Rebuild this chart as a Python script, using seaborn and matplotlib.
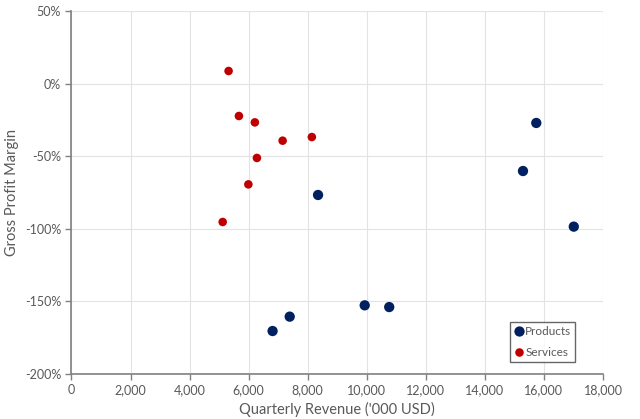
import numpy as np
import pandas as pd
import matplotlib
matplotlib.use("Agg")
import matplotlib.pyplot as plt
import matplotlib.ticker as mtick
import seaborn as sns

# ── Data ──────────────────────────────────────────
products_rev = [8350, 15740, 15290, 17010, 9930, 10760, 6810, 7390]
products_gpm = [-76.7, -27.1, -60.2, -98.5, -152.7, -153.9, -170.4, -160.5]
services_rev = [5320, 5670, 6210, 7150, 8140, 6280, 5990, 5120]
services_gpm = [8.7, -22.3, -26.7, -39.3, -36.8, -51.2, -69.4, -95.3]

df = pd.DataFrame({
    "revenue": products_rev + services_rev,
    "gpm": products_gpm + services_gpm,
    "segment": ["Products"] * len(products_rev) + ["Services"] * len(services_rev),
})

NAVY = "#002060"
RED = "#C00000"
TXT = "#595959"

sns.set_style("white")
plt.rcParams["font.family"] = ["Lato", "DejaVu Sans"]

fig = plt.figure(figsize=(6.4, 4.19), dpi=100)
ax = fig.add_axes([0.1117, 0.1074, 0.8305, 0.8663])

sns.scatterplot(data=df, x="revenue", y="gpm", hue="segment", size="segment",
                palette={"Products": NAVY, "Services": RED},
                sizes={"Products": 55, "Services": 38},
                linewidth=0, ax=ax, zorder=3)

ax.set_xlim(0, 18000)
ax.set_ylim(-200, 50)
ax.set_xticks(np.arange(0, 18001, 2000))
ax.set_yticks(np.arange(-200, 51, 50))
ax.xaxis.set_major_formatter(mtick.FuncFormatter(lambda v, p: f"{int(v):,}"))
ax.yaxis.set_major_formatter(mtick.FuncFormatter(lambda v, p: f"{int(v)}%"))

ax.grid(True, color="#E3E3E3", linewidth=0.8, zorder=0)
ax.set_axisbelow(True)
for s in ["top", "right"]:
    ax.spines[s].set_visible(False)
for s in ["left", "bottom"]:
    ax.spines[s].set_color("#808080")
    ax.spines[s].set_linewidth(1.2)
ax.tick_params(axis="both", direction="out", length=4, width=1, color="#808080",
               labelcolor=TXT, labelsize=9, bottom=True, left=True)

ax.set_xlabel("Quarterly Revenue ('000 USD)", color=TXT, fontsize=10.5)
ax.set_ylabel("Gross Profit Margin", color=TXT, fontsize=10.5)

leg = ax.legend(loc="lower right", bbox_to_anchor=(0.948, 0.033), title=None,
                frameon=True, fancybox=False, fontsize=8.5, handletextpad=0.15,
                borderpad=0.35, labelspacing=0.8, handlelength=0.8,
                borderaxespad=0)
leg.get_frame().set_edgecolor("#404040")
leg.get_frame().set_linewidth(1.0)
for t in leg.get_texts():
    t.set_color(TXT)

plt.savefig("out.png", dpi=100)
plt.close()
